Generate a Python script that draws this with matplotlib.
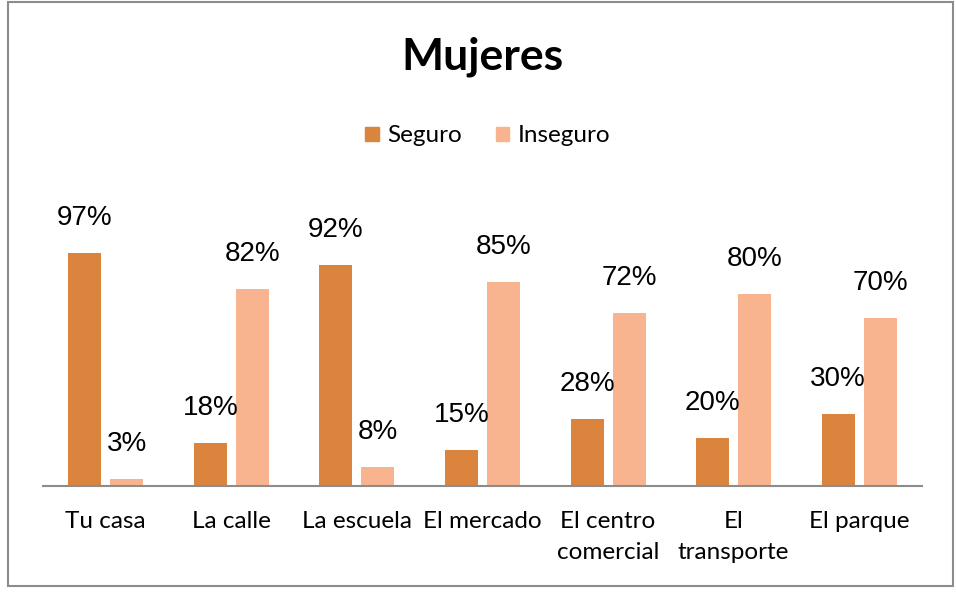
import numpy as np
import matplotlib.pyplot as plt
from matplotlib.patches import Rectangle, Patch

# datos del gráfico
categorias = ["Tu casa", "La calle", "La escuela", "El mercado",
              "El centro\ncomercial", "El\ntransporte", "El parque"]
seguro = [0.97, 0.18, 0.92, 0.15, 0.28, 0.20, 0.30]
inseguro = [0.03, 0.82, 0.08, 0.85, 0.72, 0.80, 0.70]

col_seguro = "#DB843D"
col_inseguro = "#F8B48E"

W, H = 956, 592
fig = plt.figure(figsize=(W / 100, H / 100), dpi=100)

# marco gris alrededor de la figura
fig.patches.append(Rectangle((8 / W, 1 - 586 / H), 945 / W, 584 / H,
                             transform=fig.transFigure, fill=False,
                             edgecolor="#8c8c8c", lw=1.5))

ax = fig.add_axes([43 / W, (H - 486) / H, 879 / W, 288 / H])

x = np.arange(len(categorias))
ancho = 0.263
off = 0.167
b1 = ax.bar(x - off, seguro, ancho, color=col_seguro)
b2 = ax.bar(x + off, inseguro, ancho, color=col_inseguro)

for barras, vals in ((b1, seguro), (b2, inseguro)):
    for r, v in zip(barras, vals):
        ax.annotate(f"{round(v * 100)}%", (r.get_x() + r.get_width() / 2, v),
                    xytext=(0, 25), textcoords="offset points",
                    ha="center", va="center", fontsize=20,
                    family="Liberation Sans", color="black")

ax.set_xlim(-0.5, len(categorias) - 0.5)
ax.set_ylim(0, 1.2)
ax.set_xticks(x)
ax.set_xticklabels(categorias, fontsize=17.5, family="Lato", linespacing=1.6)
ax.tick_params(axis="x", length=0, pad=18)
ax.set_yticks([])
for s in ("top", "right", "left"):
    ax.spines[s].set_visible(False)
ax.spines["bottom"].set_color("#8c8c8c")
ax.spines["bottom"].set_linewidth(1.5)

fig.text(482 / W, 1 - 57 / H, "Mujeres", ha="center", va="center",
         fontsize=32, fontweight="bold", family="Lato")

handles = [Patch(color=col_seguro, label="Seguro"),
           Patch(color=col_inseguro, label="Inseguro")]
fig.legend(handles=handles, loc="center", bbox_to_anchor=(488 / W, 1 - 136 / H),
           ncol=2, frameon=False, prop={"family": "Lato", "size": 17.5},
           handlelength=0.55, handleheight=0.55, handletextpad=0.35,
           columnspacing=1.4)

fig.savefig("out.png", dpi=100)
